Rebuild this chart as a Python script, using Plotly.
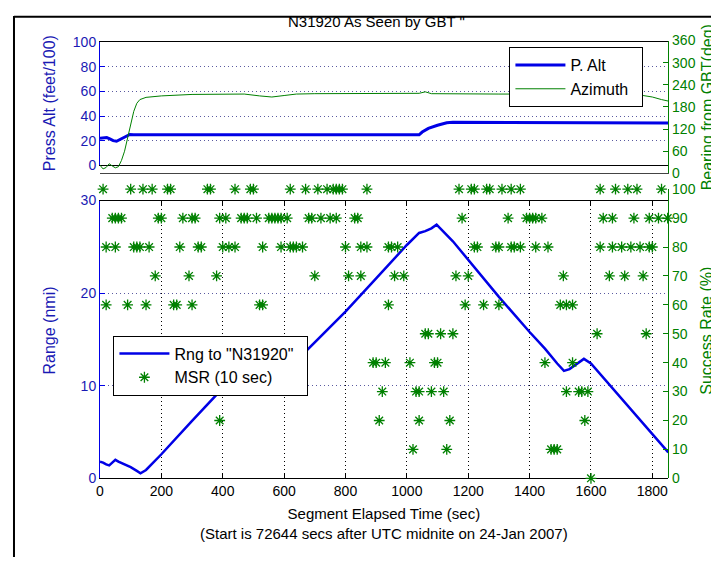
import plotly.graph_objects as go

# ---------------- data ----------------
# Range to aircraft (nmi) vs segment elapsed time (s)
rng_t = [0, 10, 20, 30, 40, 50, 60, 80, 100, 120, 132, 150, 200, 300, 400, 450, 610, 700, 800,
         900, 1000, 1040, 1060, 1080, 1097, 1150, 1200, 1300, 1400, 1450, 1490, 1512, 1530,
         1560, 1577, 1600, 1700, 1800, 1852]
rng_v = [1.8, 1.7, 1.5, 1.4, 1.7, 2.0, 1.8, 1.5, 1.2, 0.8, 0.55, 0.9, 2.6, 6.2, 9.7, 11.5, 11.7,
         14.7, 18.0, 21.6, 25.2, 26.5, 26.7, 27.0, 27.4, 25.6, 23.6, 19.6, 15.8, 14.0, 12.4,
         11.6, 11.8, 12.5, 12.9, 12.4, 8.6, 4.7, 2.8]

# Pressure altitude (feet/100)
palt_t = [0, 11, 22, 32, 43, 54, 65, 76, 86, 97, 110, 300, 600, 900, 1040, 1050, 1070, 1100,
          1130, 1150, 1400, 1600, 1620, 1852]
palt_v = [22, 22, 22.5, 21.5, 20, 19.5, 21, 22.5, 24, 25, 24.8, 24.8, 24.8, 24.8, 24.8, 27, 30,
          32.5, 34.5, 35, 35, 35, 34.4, 34.4]

# Azimuth / bearing from GBT (deg)
az_t = [0, 10, 20, 30, 40, 50, 60, 70, 80, 90, 100, 110, 120, 130, 150, 200, 300, 400, 470,
        520, 560, 600, 640, 700, 850, 1040, 1060, 1080, 1300, 1500, 1770, 1800, 1830, 1852]
az_v = [22, 12, 16, 26, 20, 15, 18, 35, 60, 95, 135, 168, 190, 200, 206, 210, 214, 215, 215,
        210, 207, 211, 215, 216, 217, 217, 221, 216, 215, 215, 211, 207, 200, 196]

# MSR (10 s) success rate samples: times (s) at each percentage level
msr_100 = [10, 100, 140, 170, 220, 230, 350, 360, 440, 490, 500, 620, 670, 710, 740, 760, 770,
           780, 790, 870, 1170, 1210, 1220, 1260, 1270, 1310, 1340, 1370, 1630, 1680, 1720,
           1750, 1830]
msr_90 = [40, 50, 60, 70, 190, 200, 270, 300, 310, 390, 410, 460, 470, 480, 510, 550, 560, 570,
          580, 590, 610, 680, 690, 720, 750, 770, 830, 840, 1180, 1330, 1390, 1400, 1410,
          1420, 1440, 1640, 1670, 1740, 1790, 1820, 1850]
msr_80 = [20, 50, 110, 120, 130, 160, 260, 320, 330, 400, 420, 440, 530, 590, 620, 630, 640,
          660, 800, 850, 870, 940, 950, 970, 1220, 1230, 1290, 1300, 1340, 1350, 1370, 1420,
          1460, 1630, 1670, 1700, 1730, 1760, 1790, 1800]
msr_70 = [180, 290, 380, 700, 810, 850, 960, 990, 1160, 1200, 1510, 1660, 1710, 1770]
msr_60 = [20, 90, 150, 240, 250, 300, 520, 530, 940, 1190, 1250, 1300, 1500, 1520, 1540]
msr_50 = [1060, 1070, 1110, 1150, 1620, 1780]
msr_40 = [890, 900, 930, 1010, 1090, 1100, 1450, 1540]
msr_30 = [920, 1030, 1040, 1080, 1120, 1520, 1560, 1570, 1590]
msr_20 = [390, 910, 1040, 1140, 1580]
msr_10 = [1020, 1130, 1470, 1480, 1490]
msr_0 = [1600]

msr_levels = [100, 90, 80, 70, 60, 50, 40, 30, 20, 10, 0]
msr_times = [msr_100, msr_90, msr_80, msr_70, msr_60, msr_50, msr_40, msr_30, msr_20, msr_10, msr_0]

x_ticks = [0, 200, 400, 600, 800, 1000, 1200, 1400, 1600, 1800]
alt_ticks = [0, 20, 40, 60, 80, 100]
brg_ticks = [0, 60, 120, 180, 240, 300, 360]
rng_ticks = [0, 10, 20, 30]
sr_ticks = [0, 10, 20, 30, 40, 50, 60, 70, 80, 90, 100]

title_txt = 'N31920 As Seen by GBT "'
xlab1 = "Segment Elapsed Time (sec)"
xlab2 = "(Start is 72644 secs after UTC midnite on 24-Jan 2007)"
NB = "\u00a0"

# ---------------- styling ----------------
WIN_W, WIN_H = 719, 565
OFF = 8                      # page body margin of the html page
W, H = WIN_W - OFF, WIN_H - OFF
BLUE = "#0000e6"
BLUE_TXT = "#1a1ab4"
GREEN = "#008000"
FONT = "Liberation Sans, Arial, sans-serif"
XMAX = 1852


def px_x(p):
    return (p - OFF) / W


def px_y(p):
    return 1 - (p - OFF) / H


xdom = [px_x(96.5), px_x(668)]

msr_x, msr_y = [], []
for lvl, ts in zip(msr_levels, msr_times):
    msr_x += ts
    msr_y += [lvl] * len(ts)

fig = go.Figure()

# top plot
fig.add_trace(go.Scatter(x=palt_t, y=palt_v, mode="lines", name="P. Alt",
                         line=dict(color=BLUE, width=3), xaxis="x2", yaxis="y3",
                         legend="legend2", legendgroup="a"))
fig.add_trace(go.Scatter(x=az_t, y=az_v, mode="lines", name="Azimuth" + NB * 2,
                         line=dict(color=GREEN, width=1), xaxis="x4", yaxis="y4",
                         legend="legend2", legendgroup="b", cliponaxis=False))
# bottom plot
fig.add_trace(go.Scatter(x=rng_t, y=rng_v, mode="lines", name='Rng to "N31920"' + NB * 2,
                         line=dict(color=BLUE, width=2.5), xaxis="x", yaxis="y",
                         legend="legend", legendgroup="c"))
fig.add_trace(go.Scatter(x=msr_x, y=msr_y, mode="markers", name="MSR (10 sec)",
                         marker=dict(symbol="asterisk-open", size=9, color=GREEN,
                                     line=dict(color=GREEN, width=1.3)),
                         xaxis="x3", yaxis="y2", legend="legend", legendgroup="d",
                         cliponaxis=False))

dotted = "1px,3px"

fig.update_layout(
    width=W, height=H, autosize=False,
    margin=dict(l=0, r=0, t=0, b=0),
    paper_bgcolor="white", plot_bgcolor="rgba(0,0,0,0)",
    font=dict(family=FONT, size=14, color="black"),
    xaxis=dict(domain=xdom, range=[0, XMAX], anchor="y", tickvals=x_ticks,
               ticks="inside", ticklen=5, tickcolor="black", showline=True, linecolor="black",
               linewidth=1, mirror="ticks", showgrid=True, gridcolor="black", griddash=dotted,
               gridwidth=1, zeroline=False, tickfont=dict(family=FONT, size=14, color="black")),
    yaxis=dict(domain=[px_y(484), px_y(198)], range=[0, 30], anchor="x", tickvals=rng_ticks,
               ticks="inside", ticklen=5, tickcolor=BLUE, showline=True, linecolor=BLUE,
               mirror=False, showgrid=True, gridcolor="#5a5aa0", griddash=dotted,
               zeroline=False, tickfont=dict(family=FONT, size=14, color=BLUE_TXT)),
    xaxis3=dict(domain=xdom, range=[0, XMAX], anchor="y2", visible=False),
    yaxis2=dict(domain=[px_y(484), px_y(186.3)], range=[0, 100], anchor="x3", side="right",
                tickvals=sr_ticks, ticks="inside", ticklen=5, tickcolor=GREEN, showline=True,
                linecolor=GREEN, showgrid=False, zeroline=False,
                tickfont=dict(family=FONT, size=14, color=GREEN)),
    xaxis2=dict(domain=xdom, range=[0, XMAX], anchor="y3", showticklabels=False, ticks="",
                showline=True, linecolor="black", mirror=True, showgrid=False, zeroline=False),
    yaxis3=dict(domain=[px_y(161.7), px_y(35)], range=[0, 100], anchor="x2", tickvals=alt_ticks,
                ticks="inside", ticklen=5, tickcolor=BLUE, showline=True, linecolor=BLUE,
                showgrid=True, gridcolor="#5a5aa0", griddash=dotted, zeroline=False,
                tickfont=dict(family=FONT, size=14, color=BLUE_TXT)),
    xaxis4=dict(domain=xdom, range=[0, XMAX], anchor="y4", showticklabels=False, ticks="",
                showline=True, linecolor="#444444", showgrid=False, zeroline=False),
    yaxis4=dict(domain=[px_y(170), px_y(33.3)], range=[0, 360], anchor="x4", side="right",
                tickvals=brg_ticks, ticks="inside", ticklen=5, tickcolor=GREEN, showline=True,
                linecolor=GREEN, showgrid=False, zeroline=False,
                tickfont=dict(family=FONT, size=14, color=GREEN)),
    showlegend=True,
    legend=dict(x=px_x(110), y=px_y(337), xanchor="left", yanchor="top",
                bgcolor="white", bordercolor="black", borderwidth=1,
                font=dict(family=FONT, size=16, color="black"),
                traceorder="grouped", tracegroupgap=0, itemwidth=50),
    legend2=dict(x=px_x(643), y=px_y(40), xanchor="right", yanchor="top",
                 bgcolor="white", bordercolor="black", borderwidth=1,
                 font=dict(family=FONT, size=16, color="black"),
                 traceorder="grouped", tracegroupgap=0, itemwidth=50),
)

annotations = [
    dict(text=title_txt, x=px_x(375), y=px_y(14), font=dict(size=15, color="black")),
    dict(text=xlab1 + "<br>" + xlab2, x=px_x(382), y=px_y(530.5), font=dict(size=15, color="black")),
    dict(text="Press Alt (feet/100)", x=px_x(46), y=px_y(98), textangle=-90,
         font=dict(size=16, color=BLUE_TXT)),
    dict(text="Range (nmi)", x=px_x(46), y=px_y(332), textangle=-90,
         font=dict(size=16, color=BLUE_TXT)),
    dict(text="Bearing from GBT(deg)", x=px_x(707), y=px_y(102), textangle=-90,
         font=dict(size=16, color=GREEN)),
    dict(text="Success Rate (%)", x=px_x(707), y=px_y(332), textangle=-90,
         font=dict(size=16, color=GREEN)),
]
for a in annotations:
    a.update(xref="paper", yref="paper", showarrow=False, xanchor="center", yanchor="middle")
    a["font"]["family"] = FONT
fig.update_layout(annotations=annotations)

# window frame edges visible in the screenshot
fig.update_layout(shapes=[
    dict(type="line", xref="paper", yref="paper", x0=px_x(10), x1=px_x(10), y0=0, y1=1,
         line=dict(color="black", width=2)),
    dict(type="line", xref="paper", yref="paper", x0=px_x(10), x1=1, y0=px_y(8.8), y1=px_y(8.8),
         line=dict(color="black", width=2)),
])

fig.write_html("out.html")
